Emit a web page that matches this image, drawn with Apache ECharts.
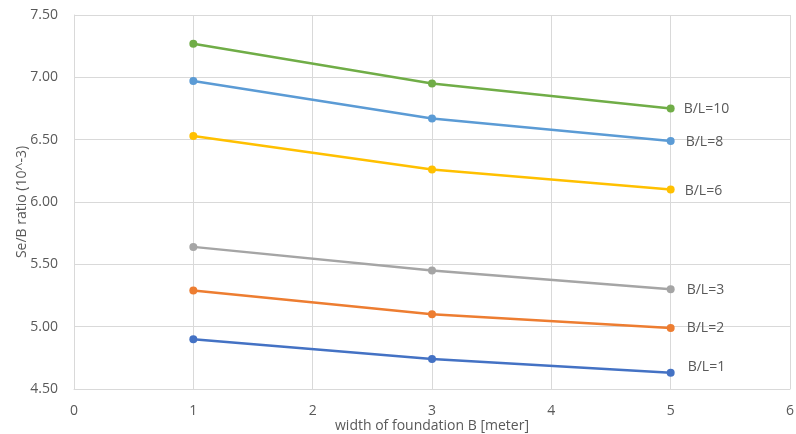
<!DOCTYPE html>
<html><head><meta charset="utf-8">
<script src="https://cdn.jsdelivr.net/npm/echarts@6/dist/echarts.min.js"></script>
<style>html,body{margin:0;padding:0;background:#fff}#c{width:796px;height:434px}</style>
</head><body><div id="c"></div>
<script>
const xValues = [1, 3, 5];
const seriesNames = ['B/L=1', 'B/L=2', 'B/L=3', 'B/L=6', 'B/L=8', 'B/L=10'];
const bl1 = [4.90, 4.74, 4.63];
const bl2 = [5.29, 5.10, 4.99];
const bl3 = [5.64, 5.45, 5.30];
const bl6 = [6.53, 6.26, 6.10];
const bl8 = [6.97, 6.67, 6.49];
const bl10 = [7.27, 6.95, 6.75];
const colors = ['#4472C4', '#ED7D31', '#A5A5A5', '#FFC000', '#5B9BD5', '#70AD47'];
const allData = [bl1, bl2, bl3, bl6, bl8, bl10];
const labelOffsets = [[5, -6], [4, 0], [4, 1], [2, 1], [3, 1], [1, 1]];
const font = '"Open Sans", sans-serif';
const txt = '#595959';

const chart = echarts.init(document.getElementById('c'), null, {renderer: 'canvas'});
chart.setOption({
  animation: false,
  backgroundColor: '#fff',
  grid: {left: 74, right: 6, top: 15, bottom: 45, containLabel: false, outerBoundsMode: 'none'},
  xAxis: {
    type: 'value', min: 0, max: 6, interval: 1,
    name: 'width of foundation B [meter]', nameLocation: 'middle', nameGap: 30,
    nameMoveOverlap: false,
    nameTextStyle: {color: txt, fontFamily: font, fontSize: 14},
    axisLine: {show: true, lineStyle: {color: '#d9d9d9', width: 1}},
    axisTick: {show: false},
    axisLabel: {color: txt, fontFamily: font, fontSize: 14, margin: 15},
    splitLine: {show: true, lineStyle: {color: '#d9d9d9', width: 1}}
  },
  yAxis: {
    type: 'value', min: 4.5, max: 7.5, interval: 0.5,
    name: 'Se/B ratio (10^-3)', nameLocation: 'middle', nameGap: 45, nameRotate: 90,
    nameMoveOverlap: false,
    nameTextStyle: {color: txt, fontFamily: font, fontSize: 14},
    axisLine: {show: true, lineStyle: {color: '#d9d9d9', width: 1}},
    axisTick: {show: false},
    axisLabel: {color: txt, fontFamily: font, fontSize: 14, margin: 16,
      formatter: v => v.toFixed(2)},
    splitLine: {show: true, lineStyle: {color: '#d9d9d9', width: 1}}
  },
  series: allData.map((d, i) => ({
    name: seriesNames[i],
    type: 'line',
    data: d.map((v, j) => {
      const p = {value: [xValues[j], v]};
      if (j === d.length - 1) {
        p.label = {show: true, position: 'right', distance: 8, offset: labelOffsets[i],
          formatter: seriesNames[i], color: txt, fontFamily: font, fontSize: 14};
      }
      return p;
    }),
    symbol: 'circle', symbolSize: 8,
    itemStyle: {color: colors[i]},
    lineStyle: {color: colors[i], width: 2.5},
    label: {show: false}
  }))
});
</script></body></html>
